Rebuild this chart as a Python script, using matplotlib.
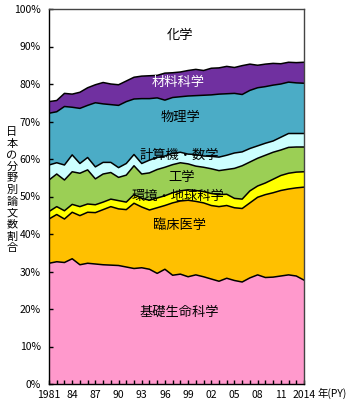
import numpy as np
import matplotlib
matplotlib.use("Agg")
import matplotlib.pyplot as plt

plt.rcParams['font.family'] = ['Noto Sans CJK JP', 'DejaVu Sans']

# --- data: share of Japanese papers by field (%), 1981-2014 ---
years = list(range(1981, 2015))

life_sci = [32.2, 32.6, 32.4, 33.4, 31.8, 32.2, 32.0, 31.8, 31.7, 31.6, 31.2, 30.8,
            31.0, 30.6, 29.5, 30.6, 29.0, 29.3, 28.6, 29.1, 28.6, 28.0, 27.4, 28.2,
            27.6, 27.2, 28.3, 29.1, 28.4, 28.5, 28.8, 29.1, 28.8, 27.7]
clinical = [11.8, 12.6, 11.6, 12.4, 13.1, 13.6, 13.7, 14.7, 15.6, 15.1, 15.3, 17.4,
            16.2, 15.8, 17.5, 17.0, 19.3, 19.5, 20.4, 19.6, 19.7, 19.6, 19.9, 19.4,
            19.4, 19.6, 20.0, 20.7, 22.1, 22.5, 22.8, 22.9, 23.5, 24.8]
env_earth = [2.0, 2.1, 2.2, 2.1, 2.4, 2.2, 2.1, 2.0, 2.0, 2.2, 2.0, 2.3,
             2.3, 2.6, 2.6, 2.6, 2.7, 2.7, 2.8, 2.9, 3.0, 3.2, 3.2, 3.0,
             2.5, 2.5, 3.2, 3.0, 3.1, 3.6, 4.0, 4.2, 4.2, 4.1]
engineering = [8.4, 8.7, 8.2, 8.7, 8.9, 9.1, 6.9, 7.5, 7.1, 6.2, 7.2, 7.7,
               6.5, 7.3, 7.6, 7.6, 7.5, 7.5, 6.9, 6.5, 6.5, 6.6, 6.4, 6.6,
               8.0, 8.9, 7.7, 7.4, 7.4, 7.2, 6.8, 6.9, 6.7, 6.6]
comp_math = [4.0, 3.0, 4.0, 4.5, 2.6, 3.3, 3.2, 3.1, 2.7, 2.6, 3.1, 3.0,
             2.8, 3.4, 3.2, 3.0, 3.0, 2.8, 2.6, 3.1, 3.0, 3.3, 3.6, 3.8,
             4.1, 3.7, 3.6, 3.3, 3.2, 3.0, 3.4, 3.7, 3.6, 3.6]
physics = [13.8, 13.6, 15.6, 12.7, 14.7, 13.9, 17.1, 15.6, 15.4, 16.6, 16.5, 14.8,
           17.3, 16.4, 15.9, 14.9, 14.9, 14.8, 15.5, 15.7, 16.2, 16.4, 16.8, 16.4,
           15.9, 15.3, 15.5, 15.5, 15.1, 14.9, 14.2, 13.7, 13.5, 13.4]
materials = [3.1, 3.0, 3.5, 3.5, 4.3, 4.7, 4.8, 5.7, 5.5, 5.5, 5.5, 5.8,
             6.0, 6.1, 6.0, 7.2, 6.6, 6.6, 6.8, 7.0, 6.6, 7.1, 7.0, 7.3,
             6.9, 7.7, 7.0, 6.0, 6.0, 5.8, 5.4, 5.3, 5.4, 5.6]
chemistry = [24.7, 24.4, 22.5, 22.7, 22.2, 21.0, 20.2, 19.6, 20.0, 20.2, 19.2, 18.2,
             17.9, 17.8, 17.7, 17.1, 17.0, 16.8, 16.4, 16.1, 16.4, 15.8, 15.7, 15.3,
             15.6, 15.1, 14.7, 15.0, 14.7, 14.5, 14.6, 14.2, 14.3, 14.2]

fields = ['基礎生命科学', '臨床医学', '環境・地球科学', '工学',
          '計算機・数学', '物理学', '材料科学', '化学']
series = [life_sci, clinical, env_earth, engineering,
          comp_math, physics, materials, chemistry]
colors = ['#FF99CC', '#FFC000', '#FFFF00', '#9BCF55',
          '#CCFFFF', '#4BACC6', '#7030A0', '#FFFFFF']

# label positions (year, %) and text colours
label_pos = [(1997.9, 19), (1997.9, 42.4), (1997.7, 50.1), (1998.1, 55.2),
             (1997.9, 61), (1998.0, 71), (1997.7, 80.3), (1997.9, 93)]
label_col = ['black'] * 6 + ['white', 'black']

fig = plt.figure(figsize=(3.5, 4.08), dpi=100)
ax = fig.add_axes([49 / 350, 1 - 384 / 408, 255 / 350, 375 / 408])

bottom = np.zeros(len(years))
for vals, c in zip(series, colors):
    top = bottom + np.array(vals)
    ax.fill_between(years, bottom, top, facecolor=c, edgecolor='none', zorder=1)
    if c != '#FFFFFF':
        ax.plot(years, top, color='black', lw=1.1, zorder=2)
    bottom = top

for name, (x, y), col in zip(fields, label_pos, label_col):
    ax.text(x, y, name, ha='center', va='center', fontsize=9.5, color=col, zorder=3)

ax.set_xlim(1981, 2014)
ax.set_ylim(0, 100)
ax.set_yticks(range(0, 101, 10))
ax.set_yticklabels([f'{v}%' for v in range(0, 101, 10)], fontsize=7.5)
ax.set_xticks(years)
xlabels = []
for y in years:
    if y in (1981, 2014):
        xlabels.append(str(y))
    elif (y - 1981) % 3 == 0:
        xlabels.append(f'{y % 100:02d}')
    else:
        xlabels.append('')
ax.set_xticklabels(xlabels, fontsize=7.5)
ax.tick_params(direction='in', length=3, width=1)
ax.tick_params(axis='y', pad=6)
ax.tick_params(axis='x', pad=4)

for s in ax.spines.values():
    s.set_linewidth(1.0)
    s.set_color('black')
for s in ('top', 'right'):
    ax.spines[s].set_color('#444444')

fig.text(318 / 350, 1 - 393 / 408, '年(PY)', ha='left', va='center', fontsize=7.5)
fig.text(12 / 350, 1 - 190 / 408, '\n'.join('日本の分野別論文数割合'),
         ha='center', va='center', fontsize=8, linespacing=1.2)

fig.savefig('out.png', dpi=100)
